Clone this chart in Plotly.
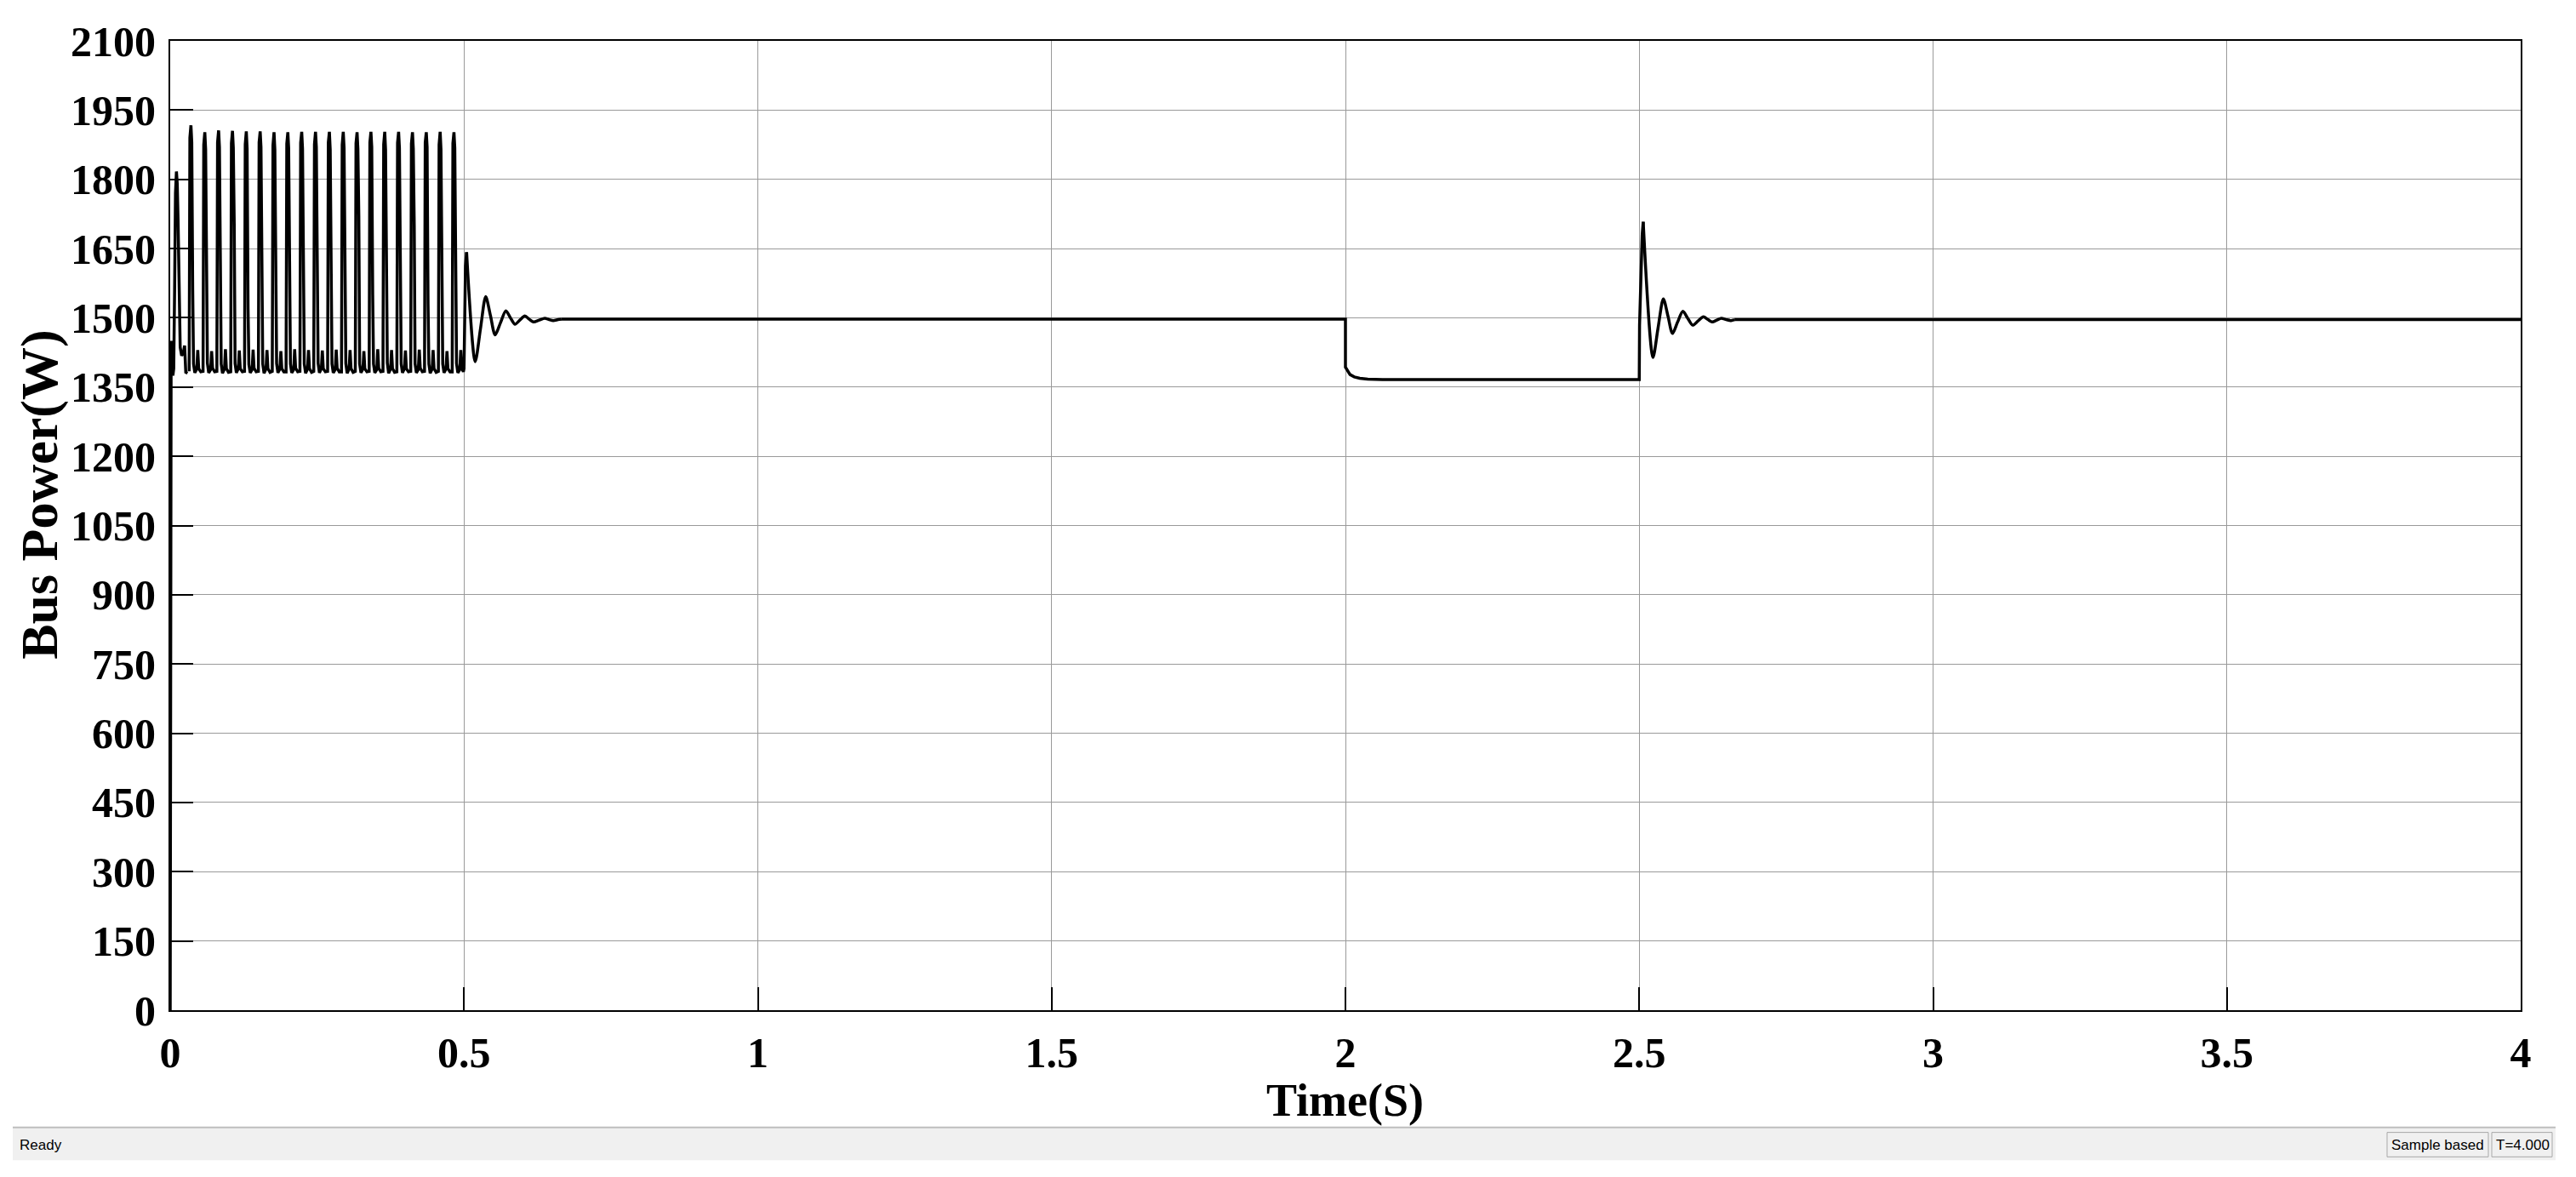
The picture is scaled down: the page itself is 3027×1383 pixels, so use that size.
import plotly.graph_objs as go

# start-up segment (0 .. first big pulse)
start_t = [0, 0.0002, 0.0005, 0.0010, 0.0016, 0.0024, 0.0034, 0.0046, 0.0060,
           0.0075, 0.0090, 0.0106, 0.0120, 0.0134, 0.0148, 0.0170, 0.0195,
           0.0225, 0.0245, 0.0265, 0.0295]
start_p = [0, 760, 1430, 1365, 1450, 1380, 1420, 1375, 1390,
           1560, 1770, 1817, 1790, 1711, 1563, 1436, 1418,
           1425, 1440, 1382, 1380]

# pulse train 0.03 .. 0.5 s, one row per cycle
train_t = [
    0.0323, 0.0335, 0.0353, 0.0367, 0.0383, 0.0397, 0.0419, 0.0453, 0.0469, 0.0485, 0.0521,
    0.0559, 0.0571, 0.0589, 0.0603, 0.0619, 0.0633, 0.0655, 0.0689, 0.0705, 0.0721, 0.0757,
    0.0794, 0.0806, 0.0824, 0.0838, 0.0854, 0.0868, 0.0890, 0.0924, 0.0940, 0.0956, 0.0992,
    0.1030, 0.1042, 0.1060, 0.1074, 0.1090, 0.1104, 0.1126, 0.1160, 0.1176, 0.1192, 0.1228,
    0.1265, 0.1277, 0.1295, 0.1309, 0.1325, 0.1339, 0.1361, 0.1395, 0.1411, 0.1427, 0.1463,
    0.1501, 0.1513, 0.1531, 0.1545, 0.1561, 0.1575, 0.1597, 0.1631, 0.1647, 0.1663, 0.1699,
    0.1737, 0.1749, 0.1767, 0.1781, 0.1797, 0.1811, 0.1833, 0.1867, 0.1883, 0.1899, 0.1935,
    0.1972, 0.1984, 0.2002, 0.2016, 0.2032, 0.2046, 0.2068, 0.2102, 0.2118, 0.2134, 0.2170,
    0.2208, 0.2220, 0.2238, 0.2252, 0.2268, 0.2282, 0.2304, 0.2338, 0.2354, 0.2370, 0.2406,
    0.2443, 0.2455, 0.2473, 0.2487, 0.2503, 0.2517, 0.2539, 0.2573, 0.2589, 0.2605, 0.2641,
    0.2679, 0.2691, 0.2709, 0.2723, 0.2739, 0.2753, 0.2775, 0.2809, 0.2825, 0.2841, 0.2877,
    0.2915, 0.2927, 0.2945, 0.2959, 0.2975, 0.2989, 0.3011, 0.3045, 0.3061, 0.3077, 0.3113,
    0.3150, 0.3162, 0.3180, 0.3194, 0.3210, 0.3224, 0.3246, 0.3280, 0.3296, 0.3312, 0.3348,
    0.3386, 0.3398, 0.3416, 0.3430, 0.3446, 0.3460, 0.3482, 0.3516, 0.3532, 0.3548, 0.3584,
    0.3621, 0.3633, 0.3651, 0.3665, 0.3681, 0.3695, 0.3717, 0.3751, 0.3767, 0.3783, 0.3819,
    0.3857, 0.3869, 0.3887, 0.3901, 0.3917, 0.3931, 0.3953, 0.3987, 0.4003, 0.4019, 0.4055,
    0.4093, 0.4105, 0.4123, 0.4137, 0.4153, 0.4167, 0.4189, 0.4223, 0.4239, 0.4255, 0.4291,
    0.4328, 0.4340, 0.4358, 0.4372, 0.4388, 0.4402, 0.4424, 0.4458, 0.4474, 0.4490, 0.4526,
    0.4564, 0.4576, 0.4594, 0.4608, 0.4624, 0.4638, 0.4660, 0.4694, 0.4710, 0.4726, 0.4762,
    0.4799, 0.4811, 0.4829, 0.4843, 0.4859, 0.4873, 0.4895, 0.4929, 0.4945, 0.4961, 0.4989,
    0.5000, 0.5025, 0.5044,
]
train_p = [
    1384, 1890, 1917, 1880, 1560, 1400, 1381, 1389, 1430, 1390, 1383,
    1384, 1875, 1902, 1865, 1630, 1402, 1381, 1388, 1428, 1391, 1383,
    1384, 1880, 1906, 1870, 1655, 1400, 1380, 1389, 1432, 1390, 1382,
    1383, 1878, 1905, 1868, 1700, 1401, 1381, 1390, 1429, 1390, 1383,
    1384, 1876, 1904, 1866, 1520, 1399, 1381, 1388, 1431, 1391, 1383,
    1384, 1880, 1904, 1870, 1610, 1400, 1380, 1389, 1430, 1390, 1382,
    1384, 1874, 1902, 1864, 1690, 1401, 1381, 1389, 1428, 1390, 1383,
    1383, 1877, 1902, 1868, 1580, 1400, 1381, 1388, 1432, 1391, 1383,
    1384, 1879, 1903, 1866, 1640, 1400, 1380, 1389, 1430, 1390, 1382,
    1384, 1876, 1903, 1870, 1500, 1402, 1381, 1390, 1429, 1390, 1383,
    1384, 1880, 1903, 1865, 1670, 1400, 1381, 1388, 1431, 1391, 1383,
    1383, 1875, 1903, 1868, 1600, 1401, 1380, 1389, 1430, 1390, 1382,
    1384, 1878, 1902, 1866, 1720, 1400, 1381, 1389, 1428, 1390, 1383,
    1384, 1880, 1903, 1870, 1550, 1400, 1381, 1388, 1432, 1391, 1383,
    1384, 1876, 1903, 1864, 1650, 1402, 1380, 1389, 1430, 1390, 1382,
    1383, 1879, 1903, 1868, 1590, 1400, 1381, 1390, 1429, 1390, 1383,
    1384, 1877, 1902, 1866, 1700, 1401, 1381, 1388, 1431, 1391, 1383,
    1384, 1880, 1902, 1870, 1530, 1400, 1380, 1389, 1430, 1390, 1382,
    1384, 1875, 1903, 1865, 1620, 1400, 1381, 1389, 1428, 1390, 1383,
    1383, 1878, 1902, 1868, 1660, 1401, 1381, 1388, 1430, 1391, 1383,
    1390, 1612, 1642,
]

# settling after the pulse train
settle1_t = [0.5044, 0.5190, 0.5280, 0.5369, 0.5450, 0.5529, 0.5620, 0.5712,
             0.5790, 0.5866, 0.5950, 0.6035, 0.6110, 0.6180, 0.6280, 0.6373,
             0.6450, 0.6518, 0.6600, 0.6660]
settle1_p = [1642, 1405, 1476, 1546, 1505, 1463, 1489, 1515,
             1500, 1486, 1495, 1504, 1497, 1491, 1495, 1499,
             1496, 1494, 1496, 1497]

# steady state, load step at 2 s, recovery at 2.5 s
steady_t = [0.6660, 2.0, 2.0, 2.0040, 2.0078, 2.0150, 2.0244, 2.0380, 2.0630,
            2.5, 2.5005, 2.5050, 2.5067]
steady_p = [1497, 1497, 1393, 1384, 1377, 1372, 1369, 1367, 1366,
            1366, 1484, 1680, 1708]

settle2_t = [2.5067, 2.5233, 2.5320, 2.5410, 2.5490, 2.5565, 2.5650, 2.5743,
             2.5825, 2.5909, 2.6000, 2.6092, 2.6170, 2.6242, 2.6320, 2.6397,
             2.6480, 2.6563, 2.6620]
settle2_p = [1708, 1414, 1478, 1541, 1503, 1466, 1490, 1514,
             1499, 1484, 1493, 1502, 1496, 1491, 1495, 1499,
             1496, 1494, 1496]

final_t = [2.6620, 4.0]
final_p = [1496, 1496]

y_ticks = list(range(0, 2101, 150))
x_ticks = [0, 0.5, 1, 1.5, 2, 2.5, 3, 3.5, 4]
x_labels = ["0", "0.5", "1", "1.5", "2", "2.5", "3", "3.5", "4"]

# the page body keeps an 8px margin, so the figure is sized to fit inside it
OFF = 8
W, H = 3027 - 2 * OFF, 1383 - 2 * OFF
L, T = 200 - OFF, 37 - OFF
R = W - (2962 - OFF)
B = H - (1187 - OFF)
PW, PH = W - L - R, H - T - B


def px(x):
    # page pixel -> paper x
    return (x - OFF - L) / PW


def py(y):
    # page pixel -> paper y
    return (H - B - (y - OFF)) / PH


serif = "Liberation Serif, Times New Roman, serif"
line = dict(color="black", width=3.5)

fig = go.Figure()
fig.add_trace(go.Scatter(x=start_t, y=start_p, mode="lines", line=line))
fig.add_trace(go.Scatter(x=train_t, y=train_p, mode="lines", line=line))
fig.add_trace(go.Scatter(x=settle1_t, y=settle1_p, mode="lines",
                         line=dict(line, shape="spline", smoothing=0.8)))
fig.add_trace(go.Scatter(x=steady_t, y=steady_p, mode="lines", line=line))
fig.add_trace(go.Scatter(x=settle2_t, y=settle2_p, mode="lines",
                         line=dict(line, shape="spline", smoothing=0.8)))
fig.add_trace(go.Scatter(x=final_t, y=final_p, mode="lines", line=line))

axis_common = dict(
    showline=True, linecolor="black", linewidth=2, mirror=True,
    ticks="inside", ticklen=27, tickwidth=2, tickcolor="black",
    showgrid=True, gridcolor="#9a9a9a", gridwidth=1, zeroline=False,
    tickfont=dict(family=serif, size=50, color="black", weight="bold"),
)

fig.update_layout(
    width=W, height=H, autosize=False,
    margin=dict(l=L, r=R, t=T, b=B, pad=0),
    paper_bgcolor="white", plot_bgcolor="white",
    showlegend=False,
    xaxis=dict(axis_common, range=[0, 4], tickvals=x_ticks, ticktext=x_labels,
               ticklabelstandoff=5),
    yaxis=dict(axis_common, range=[0, 2100], tickvals=y_ticks,
               ticklabelstandoff=5),
)

# axis titles
fig.add_annotation(x=px(1580), y=py(1294), xref="paper", yref="paper",
                   text="<b>Time(S)</b>", showarrow=False,
                   xanchor="center", yanchor="middle",
                   font=dict(family=serif, size=54, color="black"))
fig.add_annotation(x=px(47), y=py(576), xref="paper", yref="paper",
                   text="<b>Bus Power(W)</b>", showarrow=False, textangle=-90,
                   xanchor="center", yanchor="middle",
                   font=dict(family=serif, size=62, color="black"))

# status bar strip under the plot
fig.add_shape(type="rect", xref="paper", yref="paper",
              x0=px(15), x1=px(3003), y0=py(1365), y1=py(1327),
              fillcolor="#f0f0f0", line=dict(width=0), layer="below")
fig.add_shape(type="line", xref="paper", yref="paper",
              x0=px(15), x1=px(3003), y0=py(1326), y1=py(1326),
              line=dict(color="#bdbdbd", width=2))
for x0, x1 in [(2805, 2924), (2928, 2999)]:
    fig.add_shape(type="rect", xref="paper", yref="paper",
                  x0=px(x0), x1=px(x1), y0=py(1361), y1=py(1332),
                  line=dict(color="#a8a8a8", width=1))

status_font = dict(family="Liberation Sans, Arial, sans-serif", size=17, color="black")
fig.add_annotation(x=px(21), y=py(1347), xref="paper", yref="paper",
                   text="Ready", showarrow=False, xanchor="left", yanchor="middle",
                   font=status_font)
fig.add_annotation(x=px(2864), y=py(1347), xref="paper", yref="paper",
                   text="Sample based", showarrow=False, xanchor="center",
                   yanchor="middle", font=status_font)
fig.add_annotation(x=px(2964), y=py(1347), xref="paper", yref="paper",
                   text="T=4.000", showarrow=False, xanchor="center",
                   yanchor="middle", font=status_font)

fig.write_html("out.html")
